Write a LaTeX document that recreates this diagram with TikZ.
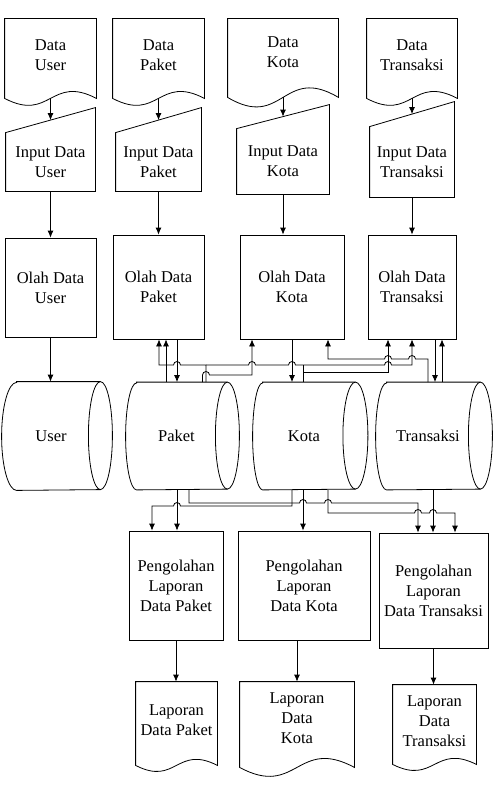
\documentclass[tikz,border=0pt]{standalone}
\usepackage{fontspec}
\setmainfont{Liberation Serif}
\usepackage{tikz}
\usetikzlibrary{calc}
\usetikzlibrary{arrows.meta}
\tikzset{>={Latex[length=7pt,width=6pt]}}
\tikzstyle{box} = [rectangle, draw=black, align=center, inner sep=0pt, font=\fontsize{16.5}{20}\selectfont]
\tikzstyle{txt} = [rectangle, draw=none, align=center, inner sep=0pt, font=\fontsize{16.5}{20}\selectfont]

% outlines drawn round the text nodes
\newcommand{\docoutline}[3]{%
  \draw (#1.north west) -- (#1.north east) -- ($(#1.south east)+(0,#2)$)
    .. controls ($(#1.south)+(0,#2-#3)$) and ($(#1.south)+(0,#2+#3)$) .. ($(#1.south west)+(0,#2)$) -- cycle;}
\newcommand{\inoutline}[2]{%
  \draw (#1.north west) -- ($(#1.north east)+(0,-#2)$) -- (#1.south east) -- (#1.south west) -- cycle;}
\newcommand{\dboutline}[4]{%
  \draw ($(#1.north west)+(#2,0)$) -- (#1.north east)
    arc[start angle=90, end angle=-90, x radius=#3pt, y radius=#4pt]
    -- ($(#1.south west)+(#2,0)$)
    arc[start angle=270, end angle=90, x radius=#2pt, y radius=#4pt] -- cycle;
  \draw (#1.north east) arc[start angle=90, end angle=270, x radius=#3pt, y radius=#4pt];}

\begin{document}
\begin{tikzpicture}[x=1pt, y=-1pt, line width=0.8pt]
\useasboundingbox (0,0) rectangle (496,792);

% input documents
\node [txt, minimum width=91pt, minimum height=72pt] (dUser) at (50.5,55) {Data\\User};
\node [txt, minimum width=91pt, minimum height=72pt] (dPaket) at (158.5,55) {Data\\Paket};
\node [txt, minimum width=110pt, minimum height=66pt] (dKota) at (283,52) {Data\\Kota};
\node [txt, minimum width=90pt, minimum height=72pt] (dTrans) at (412,55) {Data\\Transaksi};
\docoutline{dUser}{7}{24}
\docoutline{dPaket}{7}{24}
\docoutline{dKota}{12}{33}
\docoutline{dTrans}{7}{24}

% manual input
\node [txt, minimum width=89pt, minimum height=58pt] (iUser) at (50.5,162) {Input Data\\User};
\node [txt, minimum width=85pt, minimum height=58pt] (iPaket) at (158.5,162) {Input Data\\Paket};
\node [txt, minimum width=92pt, minimum height=65pt] (iKota) at (283,161.5) {Input Data\\Kota};
\node [txt, minimum width=84pt, minimum height=70pt] (iTrans) at (412,162) {Input Data\\Transaksi};
\inoutline{iUser}{25}
\inoutline{iPaket}{25}
\inoutline{iKota}{24}
\inoutline{iTrans}{25}

% processes
\node [box, minimum width=91pt, minimum height=99pt] (oUser) at (50.5,287.5) {Olah Data\\User};
\node [box, minimum width=91pt, minimum height=104pt] (oPaket) at (158.5,287) {Olah Data\\Paket};
\node [box, minimum width=104pt, minimum height=104pt] (oKota) at (292,287) {Olah Data\\Kota};
\node [box, minimum width=88pt, minimum height=104pt] (oTrans) at (412,287) {Olah Data\\Transaksi};

% storage
\node [txt, minimum width=98pt, minimum height=108pt] (dbUser) at (51,436) {User};
\node [txt, minimum width=101pt, minimum height=107pt] (dbPaket) at (176.5,436) {Paket};
\node [txt, minimum width=102pt, minimum height=107pt] (dbKota) at (304,436) {Kota};
\node [txt, minimum width=104pt, minimum height=107pt] (dbTrans) at (428,436) {Transaksi};
\dboutline{dbUser}{15}{12}{54}
\dboutline{dbPaket}{11}{12}{53.5}
\dboutline{dbKota}{10}{12.5}{53.5}
\dboutline{dbTrans}{11}{12}{53.5}

% reports
\node [box, minimum width=94pt, minimum height=109pt] (pPaket) at (176,585.5) {Pengolahan\\Laporan\\Data Paket};
\node [box, minimum width=132pt, minimum height=109pt] (pKota) at (304,585.5) {Pengolahan\\Laporan\\Data Kota};
\node [box, minimum width=109pt, minimum height=115pt] (pTrans) at (433.5,590.5) {Pengolahan\\Laporan\\Data Transaksi};

\node [txt, minimum width=81pt, minimum height=76pt] (lPaket) at (176.5,720) {Laporan\\Data Paket};
\node [txt, minimum width=114pt, minimum height=72pt] (lKota) at (297,718) {Laporan\\Data\\Kota};
\node [txt, minimum width=83pt, minimum height=72pt] (lTrans) at (434.5,721) {Laporan\\Data\\Transaksi};
\docoutline{lPaket}{7}{21}
\docoutline{lKota}{13}{31}
\docoutline{lTrans}{7}{21}

% straight flows
\draw [->] ($(dUser.south)+(0,7)$) -- ($(iUser.north)+(0,-12.5)$);
\draw [->] ($(dPaket.south)+(0,7)$) -- ($(iPaket.north)+(0,-12.5)$);
\draw [->] ($(dKota.south)+(0,12)$) -- ($(iKota.north)+(0,-12)$);
\draw [->] ($(dTrans.south)+(0,7)$) -- ($(iTrans.north)+(0,-12.5)$);
\draw [->] (iUser.south) -- (oUser.north);
\draw [->] (iPaket.south) -- (oPaket.north);
\draw [->] (iKota.south) -- (iKota.south |- oKota.north);
\draw [->] (iTrans.south) -- (oTrans.north);
\draw [->] (oUser.south) -- (oUser.south |- dbUser.north);

% between processes and storage
\draw [->] (166,0 |- dbPaket.north) -- (166,0 |- oPaket.south);
\draw [->] (177,0 |- oPaket.south) -- (177,0 |- dbPaket.north);
\draw [->] (206,0 |- dbPaket.north) -- (206,365) -- (180.5,365) arc[start angle=0, end angle=180, radius=3.5pt] -- (159,365) -- (159,0 |- oPaket.south);
\draw [->] (206,365) -- (248.5,365) arc[start angle=180, end angle=0, radius=3.5pt] -- (288.5,365) arc[start angle=180, end angle=0, radius=3.5pt] -- (384.5,365) arc[start angle=180, end angle=0, radius=3.5pt] -- (412,365) -- (412,0 |- oTrans.south);
\draw (303,0 |- dbKota.north) -- (303,365);
\draw [->] (303,372) -- (388,372) -- (388,0 |- oTrans.south);
\draw [->] (202.5,0 |- dbPaket.north) -- (202.5,375) arc[start angle=180, end angle=0, radius=3.5pt] -- (252,375) -- (252,0 |- oKota.south);
\draw [->] (428,0 |- dbTrans.north) -- (428,359) -- (415.5,359) arc[start angle=0, end angle=180, radius=3.5pt] -- (391.5,359) arc[start angle=0, end angle=180, radius=3.5pt] -- (328,359) -- (328,0 |- oKota.south);
\draw [->] (292,0 |- oKota.south) -- (292,0 |- dbKota.north);
\draw [->] (435,0 |- oTrans.south) -- (435,0 |- dbTrans.north);
\draw [->] (442,0 |- dbTrans.north) -- (442,0 |- oTrans.south);

% between storage and reports
\draw [->] (177,0 |- dbPaket.south) -- (177,0 |- pPaket.north);
\draw [->] (292,0 |- dbKota.south) -- (292,506) -- (180.5,506) arc[start angle=0, end angle=180, radius=3.5pt] -- (152,506) -- (152,0 |- pPaket.north);
\draw [->] (189,0 |- dbPaket.south) -- (189,503) -- (299.5,503) arc[start angle=180, end angle=0, radius=3.5pt] -- (324.5,503) arc[start angle=180, end angle=0, radius=3.5pt] -- (418,503) -- (418,0 |- pTrans.north);
\draw [->] (303,0 |- dbKota.south) -- (303,0 |- pKota.north);
\draw [->] (328,0 |- dbKota.south) -- (328,513) -- (414.5,513) arc[start angle=180, end angle=0, radius=3.5pt] -- (429.5,513) arc[start angle=180, end angle=0, radius=3.5pt] -- (455,513) -- (455,0 |- pTrans.north);
\draw [->] (433,0 |- dbTrans.south) -- (433,0 |- pTrans.north);

\draw [->] (pPaket.south) -- (pPaket.south |- lPaket.north);
\draw [->] (lKota.north |- pKota.south) -- (lKota.north);
\draw [->] (pTrans.south) -- (pTrans.south |- lTrans.north);
\end{tikzpicture}
\end{document}
